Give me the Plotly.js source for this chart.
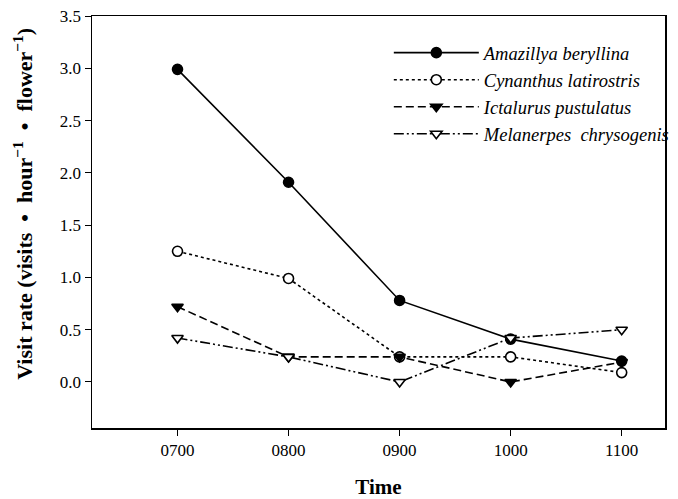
<!DOCTYPE html>
<html>
<head>
<meta charset="utf-8">
<script src="https://cdn.plot.ly/plotly-3.0.1.min.js"></script>
<style>html,body{margin:0;padding:0;background:#fff}#chart{width:678px;height:499px}</style>
</head>
<body>
<div id="chart"></div>
<script>
var times = ["0700", "0800", "0900", "1000", "1100"];
var amazillya = [2.99, 1.91, 0.78, 0.41, 0.20];
var cynanthus = [1.25, 0.99, 0.24, 0.24, 0.09];
var ictalurus = [0.72, 0.24, 0.24, 0.00, 0.19];
var melanerpes = [0.42, 0.24, 0.00, 0.42, 0.50];
var yTicks = [0, 0.5, 1, 1.5, 2, 2.5, 3, 3.5];
var yTickText = ["0.0", "0.5", "1.0", "1.5", "2.0", "2.5", "3.0", "3.5"];
var yTitle = "<b>Visit rate (visits\u00a0\u00a0•\u00a0\u00a0hour<sup>−1</sup>\u00a0\u00a0•\u00a0\u00a0flower<sup>−1</sup>)</b>";

var xIdx = times.map(function (t, i) { return i; });

function mk(name, y, dash, symbol, fill, order) {
  return {
    x: xIdx, y: y, name: name, type: "scatter", mode: "lines+markers",
    line: {color: "#000", width: 1.6, dash: dash},
    marker: {symbol: symbol, size: 10, color: fill, line: {color: "#000", width: 1.6}},
    legendrank: order
  };
}

var data = [
  mk("Amazillya beryllina", amazillya, "solid", "circle", "#000", 1),
  mk("Cynanthus latirostris", cynanthus, "dot", "circle", "#fff", 2),
  mk("Ictalurus pustulatus", ictalurus, "8px,4px", "triangle-down", "#000", 3),
  mk("Melanerpes  chrysogenis", melanerpes, "10px,3px,2px,3px,2px,3px", "triangle-down", "#fff", 4)
];

var layout = {
  width: 678, height: 499,
  margin: {l: 92, r: 13, t: 16, b: 71, autoexpand: false},
  paper_bgcolor: "#fff", plot_bgcolor: "#fff",
  font: {family: "Liberation Serif, Times New Roman, serif", color: "#000", size: 17},
  showlegend: true,
  legend: {
    x: 0.518, y: 0.956, xanchor: "left", yanchor: "top",
    bgcolor: "rgba(0,0,0,0)", borderwidth: 0,
    font: {family: "Liberation Serif, serif", size: 18.5, style: "italic", color: "#000"},
    tracegroupgap: 0, itemwidth: 85
  },
  xaxis: {
    range: [-0.77, 4.39],
    tickvals: xIdx, ticktext: times,
    ticks: "outside", ticklen: 6, tickwidth: 1, tickcolor: "#000",
    showline: true, linecolor: "#000", linewidth: 1.5, mirror: true,
    showgrid: false, zeroline: false,
    tickfont: {size: 17},
    title: {text: "<b>Time</b>", font: {size: 21}, standoff: 20}
  },
  yaxis: {
    range: [-0.44, 3.5],
    tickvals: yTicks, ticktext: yTickText,
    ticks: "outside", ticklen: 6, tickwidth: 1, tickcolor: "#000",
    showline: true, linecolor: "#000", linewidth: 1.5, mirror: true,
    showgrid: false, zeroline: false,
    tickfont: {size: 17}
  },
  annotations: [{
    text: yTitle, xref: "paper", yref: "paper", x: -0.12, y: 0.545,
    xanchor: "center", yanchor: "middle", textangle: -90, showarrow: false,
    font: {size: 22, color: "#000"}
  }]
};

Plotly.newPlot("chart", data, layout, {displayModeBar: false, staticPlot: true});
</script>
</body>
</html>
